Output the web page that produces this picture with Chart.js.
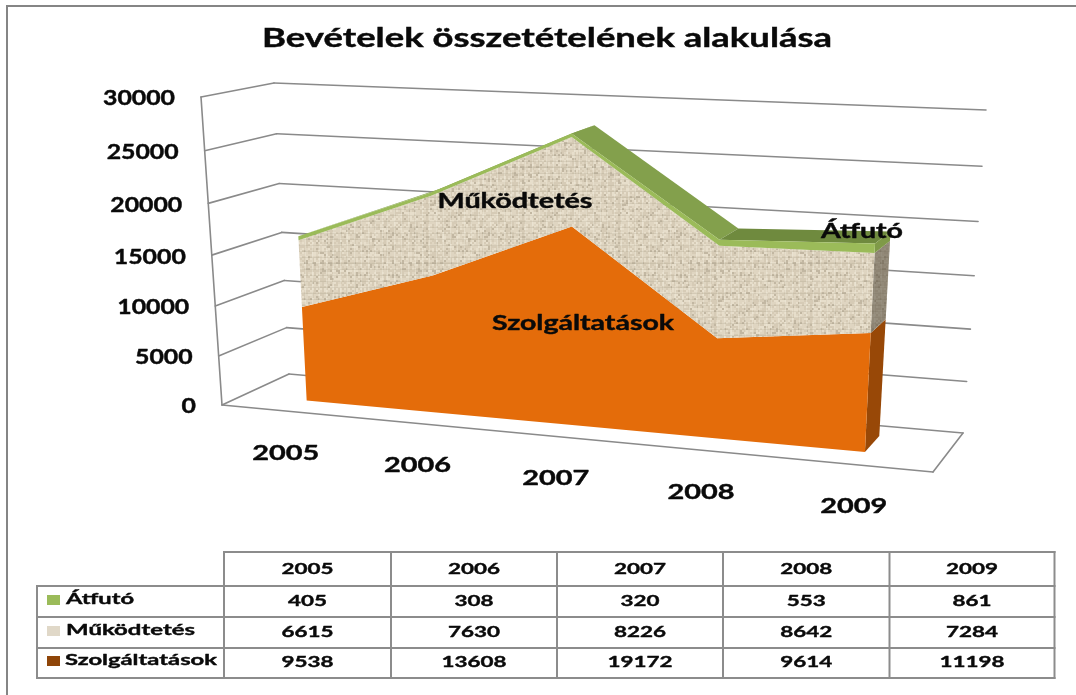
<!DOCTYPE html>
<html lang="hu">
<head>
<meta charset="utf-8">
<title>Bevételek összetételének alakulása</title>
<script src="https://cdn.jsdelivr.net/npm/chart.js@4/dist/chart.umd.min.js"></script>
<style>html,body{margin:0;padding:0;background:#fff;overflow:hidden}canvas{display:block}</style>
</head>
<body>
<canvas id="c" width="1076" height="695"></canvas>
<script>
const categories = ['2005', '2006', '2007', '2008', '2009'];
const atfuto = [405, 308, 320, 553, 861];
const mukodtetes = [6615, 7630, 8226, 8642, 7284];
const szolgaltatasok = [9538, 13608, 19172, 9614, 11198];
const seriesNames = ['Átfutó', 'Működtetés', 'Szolgáltatások'];
const chartTitle = 'Bevételek összetételének alakulása';

const FONT = 'Lato, "Open Sans", sans-serif';
const GRID = '#8a8a8a';
// corners of the 3D box on screen
const box = {
  fl0: [222, 405], flt: [201, 97], fr0: [933, 472], frt: [952, 134],
  bl0: [289, 374], blt: [274, 83], br0: [963, 433], brt: [986, 110]
};
const W = 1.13, V = 1.055, Z_NEAR = 0.33, Z_FAR = 0.75;
const lerp = (a, b, t) => [a[0] + (b[0] - a[0]) * t, a[1] + (b[1] - a[1]) * t];

function project(chart, px, py, z) {
  const a = chart.chartArea;
  const fx = (px - a.left) / (a.right - a.left);
  const fy = (a.bottom - py) / (a.bottom - a.top);
  const u = fx / (fx + W * (1 - fx));
  const v = fy / (fy + V * (1 - fy));
  const f = lerp(lerp(box.fl0, box.fr0, u), lerp(box.flt, box.frt, u), v);
  const b = lerp(lerp(box.bl0, box.br0, u), lerp(box.blt, box.brt, u), v);
  return lerp(f, b, z);
}
function weave() {
  const c = document.createElement('canvas');
  c.width = c.height = 96;
  const g = c.getContext('2d');
  g.fillStyle = '#dcd2bd';
  g.fillRect(0, 0, 96, 96);
  const h = (x, y) => ((x * 73 + y * 151 + (x * y) % 37 * 19) % 97) / 97;
  for (let y = 0; y < 96; y += 2) for (let x = 0; x < 96; x += 2) {
    const n = h(x, y);
    g.fillStyle = n > 0.9 ? '#c2b7a2' : n > 0.55 ? '#d6cbb6' : n > 0.2 ? '#dfd5c1' : '#e7decb';
    g.fillRect(x, y, 2, 2);
  }
  for (let x = 3; x < 96; x += 7) { g.fillStyle = 'rgba(240,234,220,.4)'; g.fillRect(x, 0, 1, 96); }
  for (let y = 5; y < 96; y += 6) { g.fillStyle = 'rgba(150,140,120,.16)'; g.fillRect(0, y, 96, 1); }
  return c;
}
function poly(ctx, pts, fill) {
  ctx.beginPath();
  pts.forEach((p, i) => i ? ctx.lineTo(p[0], p[1]) : ctx.moveTo(p[0], p[1]));
  ctx.closePath();
  ctx.fillStyle = fill;
  ctx.fill();
}
function seg(ctx, a, b) {
  ctx.beginPath(); ctx.moveTo(a[0], a[1]); ctx.lineTo(b[0], b[1]); ctx.stroke();
}
// text stretched horizontally to the measured width of the picture
function label(ctx, text, x, y, size, width, align) {
  ctx.save();
  ctx.font = 'bold ' + size + 'px ' + FONT;
  ctx.fillStyle = '#0a0a0a';
  ctx.strokeStyle = '#0a0a0a';
  ctx.lineWidth = 0.4;
  ctx.textBaseline = 'middle';
  ctx.textAlign = 'left';
  const m = ctx.measureText(text).width;
  const k = width / m;
  const left = align === 'right' ? x - width : align === 'left' ? x : x - width / 2;
  ctx.translate(left, y);
  ctx.scale(k, 1);
  ctx.fillText(text, 0, 0);
  ctx.strokeText(text, 0, 0);
  ctx.restore();
}

const depthChart = {
  id: 'depthChart',
  beforeDraw(chart) {
    const ctx = chart.ctx;
    ctx.save();
    ctx.fillStyle = '#fff';
    ctx.fillRect(0, 0, chart.width, chart.height);
    ctx.strokeStyle = '#858585';
    ctx.lineWidth = 2;
    ctx.beginPath(); ctx.moveTo(7, 695); ctx.lineTo(7, 6); ctx.lineTo(1076, 6); ctx.stroke();
    ctx.restore();
  },
  afterDatasetsDraw(chart) {
    const ctx = chart.ctx, xs = chart.scales.x, ys = chart.scales.y, a = chart.chartArea;
    const P = (px, py, z) => project(chart, px, py, z);
    ctx.save();
    label(ctx, chartTitle, 547, 39, 26, 570);
    // walls and floor
    ctx.strokeStyle = GRID; ctx.lineWidth = 1.6; ctx.lineCap = 'round'; ctx.lineJoin = 'round';
    ys.ticks.forEach(t => {
      const py = ys.getPixelForValue(t.value);
      const corner = P(a.left, py, 1);
      seg(ctx, P(a.left, py, 0), corner);
      seg(ctx, corner, P(a.right, py, 1));
      const q = P(a.left, py, 0);
      const s = String(t.value);
      label(ctx, s, q[0] - 26, q[1] + 2, 20, 14.4 * s.length, 'right');
    });
    seg(ctx, P(a.left, a.top, 0), P(a.left, a.bottom, 0));
    seg(ctx, P(a.left, a.bottom, 0), P(a.right, a.bottom, 0));
    seg(ctx, P(a.right, a.bottom, 0), P(a.right, a.bottom, 1));

    // stacked layers, bottom first
    const metas = [0, 1, 2].map(i => chart.getDatasetMeta(i).data);
    const pattern = ctx.createPattern(weave(), 'repeat');
    const front = ['#e46c0a', pattern, '#9bbb59'];
    const side = ['#984807', null, '#7f9a48'];
    const topFace = ['#83a04c', '#83a04c', '#83a04c', '#6f8a3e'];
    const n = categories.length;
    const base = ys.getPixelForValue(0);
    const lower = (l, i) => l === 0 ? [metas[0][i].x, base] : [metas[l - 1][i].x, metas[l - 1][i].y];
    const upper = (l, i) => [metas[l][i].x, metas[l][i].y];
    // top faces
    for (let i = 0; i < n - 1; i++) {
      const p = upper(2, i), q = upper(2, i + 1);
      poly(ctx, [P(p[0], p[1], Z_NEAR), P(q[0], q[1], Z_NEAR), P(q[0], q[1], Z_FAR), P(p[0], p[1], Z_FAR)], topFace[i]);
    }
    // right end faces
    for (let l = 0; l < 3; l++) {
      const lo = lower(l, n - 1), up = upper(l, n - 1);
      const pts = [P(lo[0], lo[1], Z_NEAR), P(up[0], up[1], Z_NEAR), P(up[0], up[1], Z_FAR), P(lo[0], lo[1], Z_FAR)];
      if (l === 1) {
        poly(ctx, pts, pattern);
        poly(ctx, pts, 'rgba(70,62,48,.5)');
      } else poly(ctx, pts, side[l]);
    }
    // front faces
    for (let l = 0; l < 3; l++) {
      const pts = [];
      for (let i = 0; i < n; i++) { const u = upper(l, i); pts.push(P(u[0], u[1], Z_NEAR)); }
      for (let i = n - 1; i >= 0; i--) { const d = lower(l, i); pts.push(P(d[0], d[1], Z_NEAR)); }
      poly(ctx, pts, front[l]);
    }
    // category labels under the floor
    categories.forEach((c, i) => {
      const q = P(xs.getPixelForValue(i), base, 0);
      label(ctx, c, q[0], q[1] + 42, 21, 67);
    });
    // series labels on the areas
    label(ctx, 'Működtetés', 515, 202, 20, 155);
    label(ctx, 'Szolgáltatások', 583, 324, 20, 182);
    label(ctx, 'Átfutó', 862, 232, 20, 82);

    // data table
    const cols = [224, 391, 557, 723, 889.5, 1054.5];
    const rows = [552, 586, 617, 648, 678];
    ctx.strokeStyle = '#8c8c8c'; ctx.lineWidth = 2; ctx.lineCap = 'square';
    seg(ctx, [cols[0], rows[0]], [cols[5], rows[0]]);
    rows.slice(1).forEach(y => seg(ctx, [37, y], [cols[5], y]));
    cols.forEach(x => seg(ctx, [x, rows[0]], [x, rows[4]]));
    seg(ctx, [37, rows[1]], [37, rows[4]]);
    categories.forEach((c, i) => label(ctx, c, (cols[i] + cols[i + 1]) / 2, 569, 16, 52));
    const tableRows = [atfuto, mukodtetes, szolgaltatasok];
    const rowY = [601, 632, 662];
    const swatch = ['#9bbb59', '#e0d8c8', '#8f4508'];
    const nameW = [68, 129, 152];
    tableRows.forEach((vals, r) => {
      vals.forEach((v, i) => {
        const t = String(v);
        label(ctx, t, (cols[i] + cols[i + 1]) / 2, rowY[r], 16, 13 * t.length);
      });
      ctx.fillStyle = swatch[r];
      ctx.fillRect(47, rowY[r] - 6, 13, 10);
      label(ctx, seriesNames[r], r === 2 ? 65 : 66, rowY[r] - 2, 16, nameW[r], 'left');
    });
    ctx.restore();
  }
};

new Chart(document.getElementById('c'), {
  type: 'line',
  data: {
    labels: categories,
    datasets: [
      { label: seriesNames[2], data: szolgaltatasok, backgroundColor: '#e46c0a', borderColor: '#e46c0a' },
      { label: seriesNames[1], data: mukodtetes, backgroundColor: '#dcd1bb', borderColor: '#dcd1bb' },
      { label: seriesNames[0], data: atfuto, backgroundColor: '#9bbb59', borderColor: '#9bbb59' }
    ]
  },
  options: {
    responsive: false,
    animation: false,
    showLine: false,
    layout: { padding: { left: 18, right: 0, top: 22, bottom: 0 } },
    elements: { point: { radius: 0 }, line: { borderWidth: 0, fill: false } },
    plugins: {
      legend: { display: false },
      tooltip: { enabled: false },
      title: { display: false, text: chartTitle }
    },
    scales: {
      x: { display: false, offset: true, grid: { display: false } },
      y: { display: false, stacked: true, min: 0, max: 30000, ticks: { stepSize: 5000 } }
    }
  },
  plugins: [depthChart]
});
</script>
</body>
</html>
